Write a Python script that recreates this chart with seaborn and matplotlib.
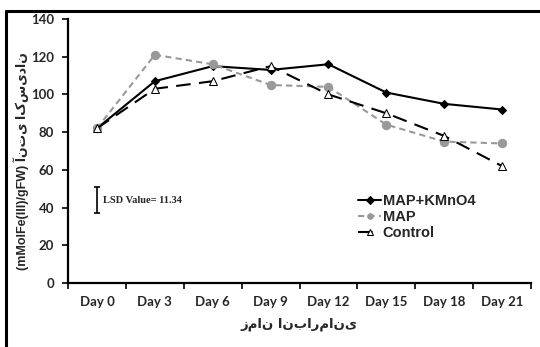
import matplotlib
matplotlib.use("Agg")
import matplotlib.pyplot as plt
import seaborn as sns
import pandas as pd
import numpy as np

days = ["Day 0", "Day 3", "Day 6", "Day 9", "Day 12", "Day 15", "Day 18", "Day 21"]
map_kmno4 = [82, 107, 115, 113, 116, 101, 95, 92]
map_only = [82, 121, 116, 105, 104, 84, 75, 74]
control = [82, 103, 107, 115, 100, 90, 78, 62]
y_ticks = [0, 20, 40, 60, 80, 100, 120, 140]
lsd_value = 11.34

sns.set_theme(style="white")
plt.rcParams["font.family"] = ["Lato", "DejaVu Sans"]

fig = plt.figure(figsize=(5.4, 3.47), dpi=100)
ax = fig.add_axes([68 / 540, 1 - 283 / 347, (531 - 68) / 540, (283 - 19) / 347])

x = np.arange(len(days))
df = pd.DataFrame({"x": np.tile(x, 3),
                   "y": map_kmno4 + map_only + control,
                   "s": ["MAP+KMnO4"] * 8 + ["MAP"] * 8 + ["Control"] * 8})

sns.lineplot(data=df[df.s == "MAP+KMnO4"], x="x", y="y", ax=ax, color="black",
             lw=1.5, marker="D", markersize=4.5, markeredgecolor="black",
             label="MAP+KMnO4")
sns.lineplot(data=df[df.s == "MAP"], x="x", y="y", ax=ax, color="#999999",
             lw=1.5, linestyle=(0, (3, 2)), marker="o", markersize=6,
             markeredgecolor="#999999", label="MAP")
sns.lineplot(data=df[df.s == "Control"], x="x", y="y", ax=ax, color="black",
             lw=1.5, linestyle=(0, (7, 4)), marker="^", markersize=6,
             markerfacecolor="white", markeredgecolor="black", label="Control")

# LSD bar
ax.errorbar([0], [44], yerr=[[lsd_value / 2 + 1], [lsd_value / 2 + 1]], fmt="none",
            ecolor="black", elinewidth=1.2, capsize=2, capthick=1.2)
ax.text(0.1, 44, "LSD Value= 11.34", fontsize=7.5, fontweight="bold",
        family=["Liberation Serif", "DejaVu Serif"], va="center", ha="left")

ax.set_xlim(-0.5, len(days) - 0.5)
ax.set_ylim(0, 140)
ax.set_yticks(y_ticks)
ax.set_yticklabels([str(v) for v in y_ticks], fontsize=9.5, fontweight="bold")
ax.set_xticks(np.arange(-0.5, len(days), 1.0))
ax.set_xticklabels([])
ax.set_xticks(x, minor=True)
ax.set_xticklabels(days, minor=True, fontsize=9.5, fontweight="bold")
ax.tick_params(axis="x", which="major", direction="out", length=4, width=1.2, color="black")
ax.tick_params(axis="x", which="minor", length=0, pad=9)
ax.tick_params(axis="y", direction="out", length=4, width=1.2, color="black", pad=6)
ax.xaxis.set_ticks_position("bottom")
ax.yaxis.set_ticks_position("left")

for s in ["top", "right"]:
    ax.spines[s].set_visible(False)
for s in ["left", "bottom"]:
    ax.spines[s].set_color("black")
    ax.spines[s].set_linewidth(1.6)

ax.set_xlabel("زمان انبارمانی", fontsize=9.5, fontweight="bold",
              family=["DejaVu Sans"], labelpad=7)
ax.set_ylabel("(mMolFe(III)/gFW) آنتی اکسیدان", fontsize=9, fontweight="bold",
              family=["Liberation Sans", "DejaVu Sans"])
ax.yaxis.set_label_coords(-(68 - 29) / 463, 0.46)

leg = ax.legend(loc="upper left", bbox_to_anchor=((352 - 68) / 463, 1 - (188 - 19) / 264),
                frameon=False, handlelength=1.6, handletextpad=0.1, labelspacing=0.15,
                borderaxespad=0, prop={"family": "Liberation Sans", "weight": "bold", "size": 10.5})
for h in leg.legend_handles:
    h.set_markersize(4)

# figure border (top and left visible), drawn relative to the axes
bx = -(68 - 6) / 463
by = 1 + 8 / 264
ax.plot([bx, 1.2], [by, by], transform=ax.transAxes, clip_on=False,
        color="black", lw=2.2, zorder=100)
ax.plot([bx, bx], [by, -0.5], transform=ax.transAxes, clip_on=False,
        color="black", lw=2.2, zorder=100)

fig.savefig("out.png", dpi=100)
